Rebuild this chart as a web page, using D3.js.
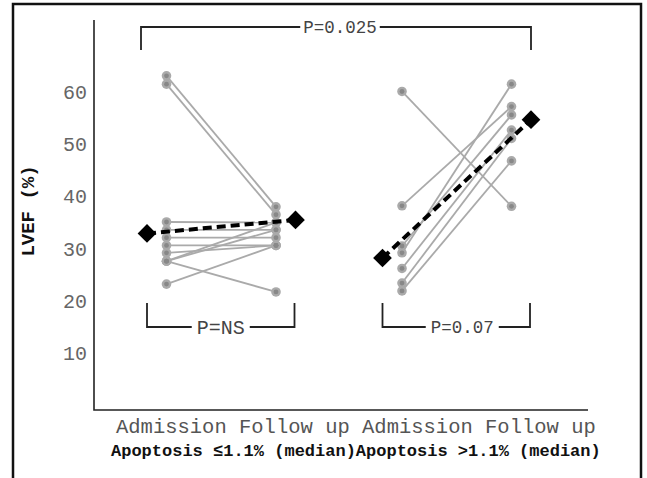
<!DOCTYPE html>
<html>
<head>
<meta charset="utf-8">
<script src="https://d3js.org/d3.v7.min.js"></script>
<style>
  body { margin: 0; background: #fff; }
  svg { display: block; }
  text { font-family: "Liberation Mono", "DejaVu Sans Mono", monospace; }
</style>
</head>
<body>
<svg width="647" height="478"></svg>
<script>
var svg = d3.select("svg");

//==================================================
// data (LVEF %)
var groups = ["Apoptosis \u22641.1% (median)", "Apoptosis >1.1% (median)"];
var timepoints = ["Admission", "Follow up"];

// apoptosis <= 1.1%
var lowAdmission = [63.1, 61.5, 35.1, 33.6, 32.1, 30.6, 29.2, 27.6, 27.6, 27.6, 23.2];
var lowFollowup  = [38.0, 36.5, 35.0, 33.6, 32.1, 30.6, 30.6, 35.0, 33.6, 21.7, 30.6];
var lowMedian = [32.9, 35.5];

// apoptosis > 1.1%
var highAdmission = [60.1, 38.2, 30.5, 29.2, 26.2, 23.4, 21.9];
var highFollowup  = [38.1, 57.2, 55.6, 61.5, 52.7, 51.1, 46.8];
var highMedian = [28.2, 54.7];

var yTicks = [10, 20, 30, 40, 50, 60];
var withinP = ["P=NS", "P=0.07"];
var betweenP = "P=0.025";

//==================================================
// scales
var y = d3.scaleLinear().domain([10, 60]).range([353, 92]);
var plotTop = 20, plotBottom = 410, plotLeft = 94, plotRight = 588;

var xGroup = d3.scalePoint().domain(groups).range([221, 456.5]);
var xInner = d3.scalePoint().domain(timepoints).range([-54.5, 55]);
var x = function(g, t) { return xGroup(g) + xInner(t); };
var diamondOff = 19.5;

var series = [
  {group: groups[0], adm: lowAdmission, fu: lowFollowup, med: lowMedian, p: withinP[0], pdx: 0},
  {group: groups[1], adm: highAdmission, fu: highFollowup, med: highMedian, p: withinP[1], pdx: 6}
];

// frame around the whole figure
svg.append("rect")
  .attr("x", 13).attr("y", 4)
  .attr("width", 628).attr("height", 500)
  .attr("fill", "none").attr("stroke", "#111").attr("stroke-width", 2.5);

// axes lines
svg.append("path")
  .attr("d", "M" + plotLeft + "," + plotTop + "V" + plotBottom + "H" + plotRight)
  .attr("fill", "none").attr("stroke", "#222").attr("stroke-width", 1.6);

var yAxis = svg.append("g")
  .attr("transform", "translate(" + plotLeft + ",0)")
  .call(d3.axisLeft(y).tickValues(yTicks).tickSize(0).tickPadding(7));
yAxis.select(".domain").remove();
yAxis.selectAll("text")
  .attr("font-family", "Liberation Mono")
  .attr("font-size", 20)
  .attr("fill", "#666");

svg.append("text")
  .attr("transform", "translate(34,211) rotate(-90)")
  .attr("text-anchor", "middle")
  .attr("font-size", 19).attr("font-weight", "bold")
  .attr("fill", "#111")
  .text("LVEF (%)");

//==================================================
// patient lines and dots
series.forEach(function(s) {
  var x0 = x(s.group, timepoints[0]), x1 = x(s.group, timepoints[1]);
  var g = svg.append("g");
  g.selectAll("line.pt").data(d3.range(s.adm.length)).enter()
    .append("line")
    .attr("x1", x0).attr("x2", x1)
    .attr("y1", function(i) { return y(s.adm[i]); })
    .attr("y2", function(i) { return y(s.fu[i]); })
    .attr("stroke", "#aaa").attr("stroke-width", 1.8);

  var pts = [];
  s.adm.forEach(function(v) { pts.push([x0, v]); });
  s.fu.forEach(function(v) { pts.push([x1, v]); });
  g.selectAll("circle.o").data(pts).enter()
    .append("circle")
    .attr("cx", function(d) { return d[0]; })
    .attr("cy", function(d) { return y(d[1]); })
    .attr("r", 4.8).attr("fill", "#aaa");
  g.selectAll("circle.i").data(pts).enter()
    .append("circle")
    .attr("cx", function(d) { return d[0]; })
    .attr("cy", function(d) { return y(d[1]); })
    .attr("r", 2.4).attr("fill", "#888");

  // median line + diamonds
  var mx = [x0 - diamondOff, x1 + diamondOff];
  g.append("line")
    .attr("x1", mx[0]).attr("x2", mx[1])
    .attr("y1", y(s.med[0])).attr("y2", y(s.med[1]))
    .attr("stroke", "#000").attr("stroke-width", 4)
    .attr("stroke-dasharray", "9,5");
  g.selectAll("path.med").data(s.med).enter()
    .append("path")
    .attr("d", d3.symbol(d3.symbolSquare, 175))
    .attr("transform", function(d, i) { return "translate(" + mx[i] + "," + y(d) + ") rotate(45)"; })
    .attr("fill", "#000");

  // within-group bracket
  var bx0 = mx[0], bx1 = mx[1] - 1, bt = 303, bb = 327;
  var mid = (bx0 + bx1) / 2 + s.pdx;
  var t = g.append("text")
    .attr("x", mid).attr("y", bb).attr("dy", "0.33em")
    .attr("text-anchor", "middle")
    .attr("font-family", s.p == "P=NS" ? "Liberation Serif" : null)
    .attr("font-size", s.p == "P=NS" ? 20 : 17.5)
    .attr("fill", "#444")
    .text(s.p);
  var w = t.node().getComputedTextLength() / 2 + 5;
  g.append("path")
    .attr("d", "M" + bx0 + "," + bt + "V" + bb + "H" + (mid - w) +
               "M" + (mid + w) + "," + bb + "H" + bx1 + "V" + bt)
    .attr("fill", "none").attr("stroke", "#222").attr("stroke-width", 1.8);
});

//==================================================
// between-group bracket on top
var tx0 = 141, tx1 = x(groups[1], timepoints[1]) + diamondOff, tt = 27, tb = 50;
var tmid = (tx0 + tx1) / 2 + 4;
var topText = svg.append("text")
  .attr("x", tmid).attr("y", tt).attr("dy", "0.33em")
  .attr("text-anchor", "middle")
  .attr("font-size", 17.5).attr("fill", "#444")
  .text(betweenP);
var tw = topText.node().getComputedTextLength() / 2 + 3;
svg.append("path")
  .attr("d", "M" + tx0 + "," + tb + "V" + tt + "H" + (tmid - tw) +
             "M" + (tmid + tw) + "," + tt + "H" + tx1 + "V" + tb)
  .attr("fill", "none").attr("stroke", "#222").attr("stroke-width", 1.8);

//==================================================
// x labels: written one after another like in the figure
var cx = 116;
groups.forEach(function(gname) {
  timepoints.forEach(function(tp) {
    var lab = svg.append("text")
      .attr("x", cx).attr("y", 433)
      .attr("font-size", 20.5).attr("fill", "#555")
      .text(tp);
    cx += lab.node().getComputedTextLength() + 12.3;
  });
});

var bx = 111;
groups.forEach(function(gname) {
  var lab = svg.append("text")
    .attr("x", bx).attr("y", 456)
    .attr("font-size", 17).attr("font-weight", "bold")
    .attr("fill", "#111")
    .text(gname);
  bx += lab.node().getComputedTextLength();
});
</script>
</body>
</html>
